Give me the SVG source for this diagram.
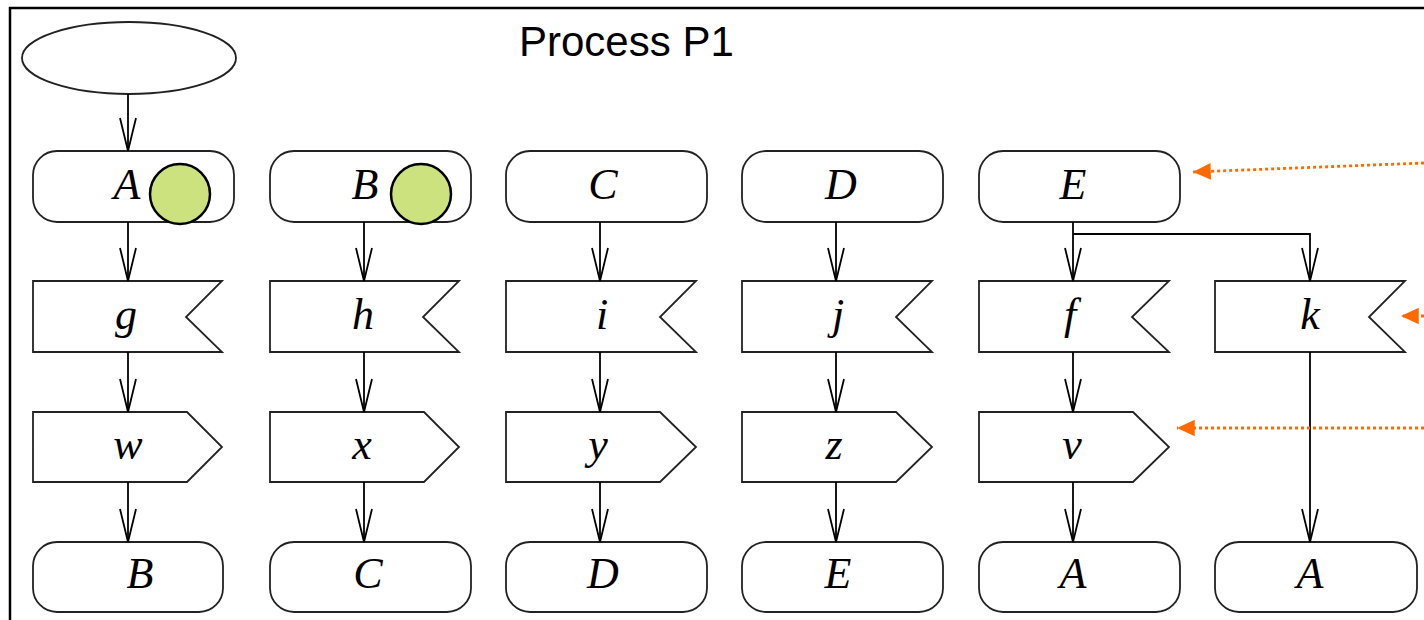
<svg xmlns="http://www.w3.org/2000/svg" width="1424" height="620" viewBox="0 0 1424 620">
<style>
.bg{fill:#fff}
.frame{fill:none;stroke:#000;stroke-width:2.5}
.node{fill:#fff;stroke:#222;stroke-width:1.8}
.lbl{font-family:"Liberation Serif","Times New Roman",serif;font-style:italic;font-size:44px;fill:#000;text-anchor:middle}
.title{font-family:"Liberation Sans",Arial,sans-serif;font-size:42px;fill:#000}
.edge{fill:none;stroke:#000;stroke-width:1.8;marker-end:url(#vee)}
.note{fill:none;stroke:#ff6a00;stroke-width:2.8;stroke-dasharray:3 3;marker-end:url(#tri)}
.dot{fill:#cbe27e;stroke:#000;stroke-width:2.5}
</style>
<defs>
<marker id="vee" markerUnits="userSpaceOnUse" markerWidth="40" markerHeight="20" viewBox="-35 -10 37 20" refX="0" refY="0" orient="auto" overflow="visible">
<path d="M-33,-8 L0,0 L-33,8" fill="none" stroke="#000" stroke-width="1.8"/>
</marker>
<marker id="tri" markerUnits="userSpaceOnUse" markerWidth="20" markerHeight="20" viewBox="-17 -9 18 18" refX="0" refY="0" orient="auto" overflow="visible">
<path d="M-16,-7.5 L0,0 L-16,7.5 Z" fill="#ff6a00"/>
</marker>
</defs>
<rect class="bg" x="0" y="0" width="1424" height="620"/>
<path class="frame" d="M10,620 V8 H1424"/>
<text class="title" x="519" y="56">Process P1</text>

<g id="start"><ellipse class="node" cx="129" cy="58" rx="107" ry="36"/></g>

<g id="A1"><rect class="node" x="33" y="151" width="201" height="71" rx="24"/><text class="lbl" x="127" y="199">A</text><circle class="dot" cx="180" cy="194" r="30"/></g>
<g id="B1"><rect class="node" x="270" y="151" width="201" height="71" rx="24"/><text class="lbl" x="365" y="199">B</text><circle class="dot" cx="421" cy="194" r="30"/></g>
<g id="C1"><rect class="node" x="506" y="151" width="201" height="71" rx="24"/><text class="lbl" x="603" y="199">C</text></g>
<g id="D1"><rect class="node" x="742" y="151" width="201" height="71" rx="24"/><text class="lbl" x="841" y="199">D</text></g>
<g id="E1"><rect class="node" x="979" y="151" width="201" height="71" rx="24"/><text class="lbl" x="1073" y="199">E</text></g>

<g id="g"><path class="node" d="M33,281 H222 L186,317 L222,352 H33 Z"/><text class="lbl" x="126" y="329">g</text></g>
<g id="h"><path class="node" d="M270,281 H459 L423,317 L459,352 H270 Z"/><text class="lbl" x="363" y="329">h</text></g>
<g id="i"><path class="node" d="M506,281 H696 L660,317 L696,352 H506 Z"/><text class="lbl" x="602" y="329">i</text></g>
<g id="j"><path class="node" d="M742,281 H932 L896,317 L932,352 H742 Z"/><text class="lbl" x="838" y="329">j</text></g>
<g id="f"><path class="node" d="M979,281 H1169 L1132,317 L1169,352 H979 Z"/><text class="lbl" x="1070" y="329">f</text></g>
<g id="k"><path class="node" d="M1215,281 H1405 L1369,317 L1405,352 H1215 Z"/><text class="lbl" x="1310" y="329">k</text></g>

<g id="w"><path class="node" d="M33,412 H187 L222,447 L187,482 H33 Z"/><text class="lbl" x="128" y="459">w</text></g>
<g id="x"><path class="node" d="M270,412 H424 L459,447 L424,482 H270 Z"/><text class="lbl" x="362" y="459">x</text></g>
<g id="y"><path class="node" d="M506,412 H660 L696,447 L660,482 H506 Z"/><text class="lbl" x="598" y="459">y</text></g>
<g id="z"><path class="node" d="M742,412 H896 L932,447 L896,482 H742 Z"/><text class="lbl" x="834" y="459">z</text></g>
<g id="v"><path class="node" d="M979,412 H1133 L1169,447 L1133,482 H979 Z"/><text class="lbl" x="1072" y="459">v</text></g>

<g id="B2"><rect class="node" x="33" y="542" width="190" height="70" rx="24"/><text class="lbl" x="140" y="588">B</text></g>
<g id="C2"><rect class="node" x="270" y="542" width="201" height="70" rx="24"/><text class="lbl" x="368" y="588">C</text></g>
<g id="D2"><rect class="node" x="506" y="542" width="201" height="70" rx="24"/><text class="lbl" x="603" y="588">D</text></g>
<g id="E2"><rect class="node" x="742" y="542" width="201" height="70" rx="24"/><text class="lbl" x="838" y="588">E</text></g>
<g id="A2"><rect class="node" x="979" y="542" width="201" height="70" rx="24"/><text class="lbl" x="1073" y="588">A</text></g>
<g id="A3"><rect class="node" x="1215" y="542" width="202" height="70" rx="24"/><text class="lbl" x="1310" y="588">A</text></g>

<g id="connectors">
<line class="edge" x1="128" y1="94" x2="128" y2="151"/>
<line class="edge" x1="128" y1="222" x2="128" y2="281"/>
<line class="edge" x1="364" y1="222" x2="364" y2="281"/>
<line class="edge" x1="600" y1="222" x2="600" y2="281"/>
<line class="edge" x1="836" y1="222" x2="836" y2="281"/>
<line class="edge" x1="1073" y1="222" x2="1073" y2="281"/>
<path class="edge" d="M1073,234 H1310 V281"/>
<line class="edge" x1="128" y1="352" x2="128" y2="412"/>
<line class="edge" x1="364" y1="352" x2="364" y2="412"/>
<line class="edge" x1="600" y1="352" x2="600" y2="412"/>
<line class="edge" x1="836" y1="352" x2="836" y2="412"/>
<line class="edge" x1="1073" y1="352" x2="1073" y2="412"/>
<line class="edge" x1="128" y1="482" x2="128" y2="542"/>
<line class="edge" x1="364" y1="482" x2="364" y2="542"/>
<line class="edge" x1="600" y1="482" x2="600" y2="542"/>
<line class="edge" x1="836" y1="482" x2="836" y2="542"/>
<line class="edge" x1="1073" y1="482" x2="1073" y2="542"/>
<line class="edge" x1="1310" y1="352" x2="1310" y2="542"/>
<line class="note" x1="1424" y1="163" x2="1193" y2="172"/>
<line class="note" x1="1424" y1="316" x2="1401" y2="316"/>
<line class="note" x1="1424" y1="428" x2="1177" y2="428"/>
</g>
</svg>
